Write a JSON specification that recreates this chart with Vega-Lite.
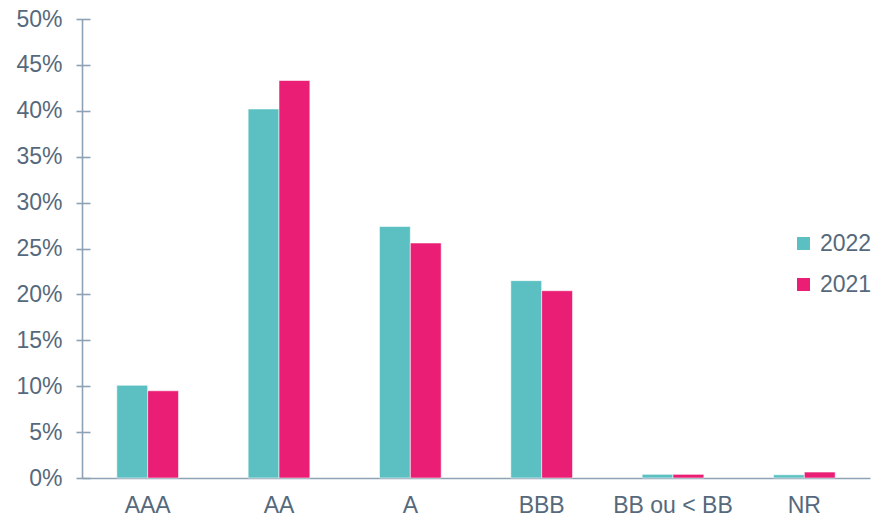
{
  "$schema": "https://vega.github.io/schema/vega-lite/v6.json",
  "width": 788,
  "height": 459,
  "autosize": "none",
  "padding": {"left": 82, "top": 19, "right": 3, "bottom": 38},
  "background": "white",
  "config": {
    "view": {"stroke": null},
    "font": "Liberation Sans",
    "axis": {"grid": false, "title": null, "labelFont": "Liberation Sans", "labelFontSize": 23, "labelColor": "#56697c", "domainColor": "#8ea2b5", "tickColor": "#8ea2b5", "domainWidth": 1.6, "tickWidth": 1.6}
  },
  "data": {
    "values": [
      {"rating": "AAA", "year": "2022", "value": 0.101},
      {"rating": "AAA", "year": "2021", "value": 0.095},
      {"rating": "AA", "year": "2022", "value": 0.402},
      {"rating": "AA", "year": "2021", "value": 0.433},
      {"rating": "A", "year": "2022", "value": 0.274},
      {"rating": "A", "year": "2021", "value": 0.256},
      {"rating": "BBB", "year": "2022", "value": 0.215},
      {"rating": "BBB", "year": "2021", "value": 0.204},
      {"rating": "BB ou < BB", "year": "2022", "value": 0.004},
      {"rating": "BB ou < BB", "year": "2021", "value": 0.004},
      {"rating": "NR", "year": "2022", "value": 0.0035},
      {"rating": "NR", "year": "2021", "value": 0.0065}
    ]
  },
  "encoding": {
    "x": {
      "field": "rating", "type": "nominal",
      "sort": ["AAA", "AA", "A", "BBB", "BB ou < BB", "NR"],
      "scale": {"paddingInner": 0.53, "paddingOuter": 0.265},
      "axis": {"labelAngle": 0, "ticks": false, "labelPadding": 16, "domain": true}
    },
    "xOffset": {"field": "year", "type": "nominal", "sort": ["2022", "2021"]},
    "color": {
      "field": "year", "type": "nominal",
      "scale": {"domain": ["2022", "2021"], "range": ["#5cc0c2", "#e91e74"]},
      "legend": {
        "title": null, "orient": "none", "legendX": 710, "legendY": 213,
        "symbolType": "square", "symbolSize": 169, "symbolStrokeWidth": 0,
        "labelFontSize": 23, "labelFont": "Liberation Sans", "labelColor": "#56697c",
        "labelOffset": 5, "rowPadding": 17, "padding": 0
      }
    }
  },
  "layer": [
    {
      "mark": {"type": "bar", "stroke": "#ffffff", "strokeWidth": 0.8, "strokeOpacity": 0.7},
      "encoding": {
        "y": {
          "field": "value", "type": "quantitative",
          "scale": {"domain": [0, 0.5], "nice": false},
          "axis": {
            "orient": "left", "format": ".0%",
            "values": [0, 0.05, 0.1, 0.15, 0.2, 0.25, 0.3, 0.35, 0.4, 0.45, 0.5],
            "domain": false, "tickSize": 14, "offset": -8, "labelPadding": 14
          }
        }
      }
    },
    {
      "mark": {"type": "bar", "opacity": 0},
      "encoding": {
        "y": {
          "field": "value", "type": "quantitative",
          "axis": {"orient": "left", "domain": true, "ticks": false, "labels": false, "offset": 0}
        }
      }
    }
  ],
  "resolve": {"axis": {"y": "independent"}}
}
